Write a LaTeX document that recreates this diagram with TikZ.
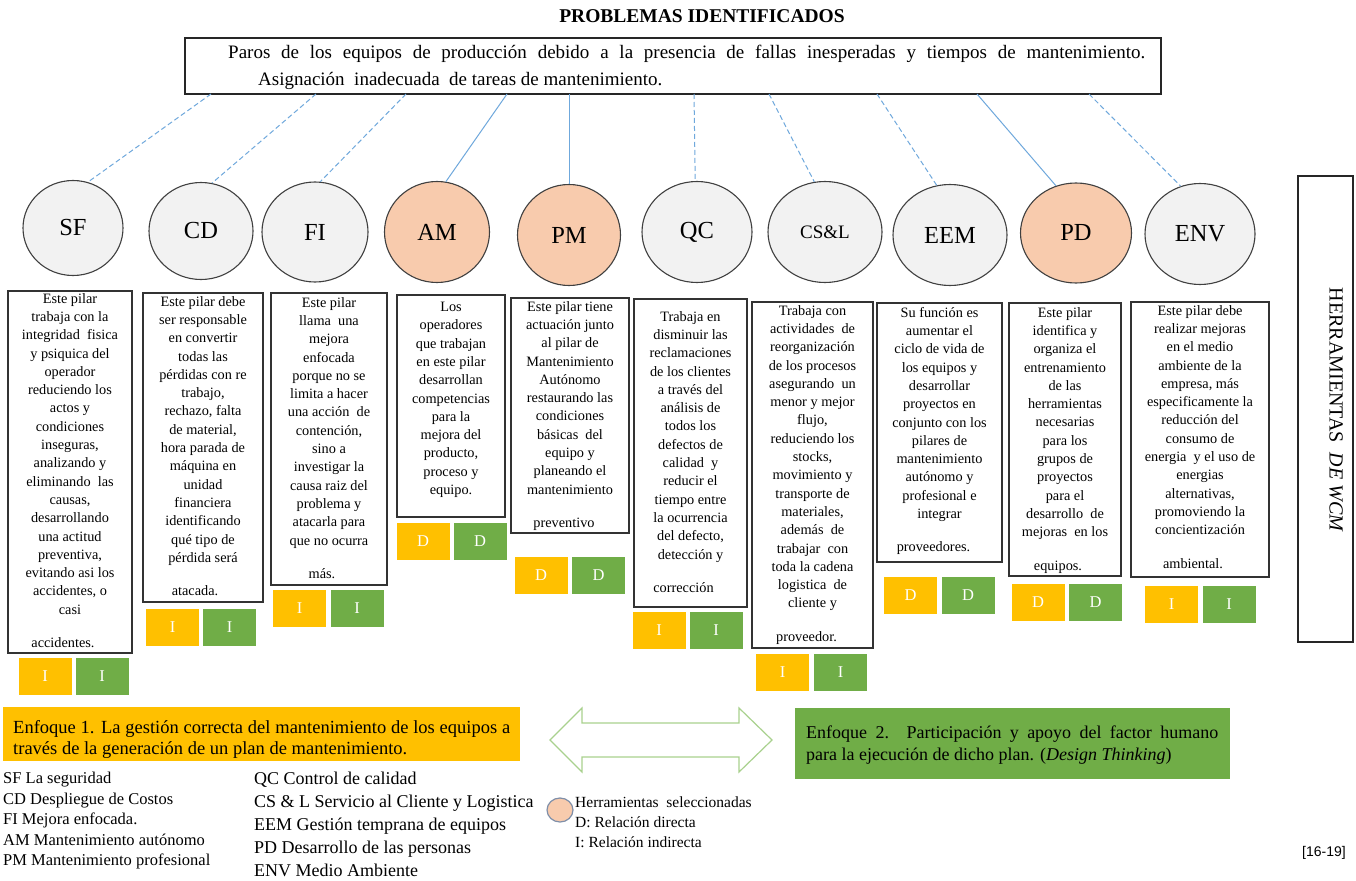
\documentclass[tikz,border=0pt]{standalone}
\usepackage{fontspec}
\setmainfont{Liberation Serif}
\newfontfamily\arialfont{Liberation Sans}
\usetikzlibrary{shapes.geometric}
\definecolor{cgray}{HTML}{F2F2F2}
\definecolor{peach}{HTML}{F8CBAD}
\definecolor{orng}{HTML}{FFC000}
\definecolor{grn}{HTML}{70AD47}
\definecolor{lblue}{HTML}{6FA8DC}
\definecolor{agreen}{HTML}{A9D18E}
\definecolor{legbord}{RGB}{127,143,169}
\begin{document}
\begin{tikzpicture}[x=1pt,y=-1pt,
  pil/.style={ellipse, draw=black!75, line width=1.1pt, fill=cgray, inner sep=0pt, font=\fontsize{24.5}{24.5}\selectfont},
  pilsel/.style={pil, fill=peach},
  txtbox/.style={draw=black!80, line width=1.3pt, inner sep=0pt},
  boxtext/.style={anchor=north, inner sep=0pt, align=center, font=\fontsize{14.3}{18.3}\selectfont},
  chipo/.style={fill=orng, inner sep=0pt, minimum width=53pt, minimum height=37pt, text=white, font=\fontsize{16.5}{16.5}\selectfont},
  chipg/.style={chipo, fill=grn},
  conn/.style={draw=lblue, line width=1pt},
  connd/.style={conn, dash pattern=on 5pt off 3pt},
  plain/.style={inner sep=0pt},
]
\useasboundingbox (0,0) rectangle (1356,880);
\fill[white] (0,0) rectangle (1356,880);

% title and problem box
\node[plain, anchor=base, font=\fontsize{19.5}{19.5}\selectfont\bfseries] (title) at (702,23) {PROBLEMAS IDENTIFICADOS};
\node[draw=black!85, line width=1.3pt, inner sep=0pt, minimum width=976pt, minimum height=56pt] (topbox) at (673,66) {};
\node[plain, anchor=base west, font=\fontsize{19}{19}\selectfont] (prob1) at (228,59) {\makebox[917pt][s]{Paros de los equipos de producción debido a la presencia de fallas inesperadas y tiempos de mantenimiento.}};
\node[plain, anchor=base west, font=\fontsize{19}{19}\selectfont] (prob2) at (258,86) {Asignación\ \ inadecuada\ \ de tareas de mantenimiento.};

% pillars
\node[pil, minimum width=100pt, minimum height=95pt] (SF) at (73,228) {SF};
\node[pil, minimum width=104pt, minimum height=97pt] (CD) at (201,231) {CD};
\node[pil, minimum width=106pt, minimum height=100pt] (FI) at (315,232) {FI};
\node[pilsel, minimum width=105pt, minimum height=101pt] (AM) at (437,232) {AM};
\node[pilsel, minimum width=103pt, minimum height=101pt] (PM) at (569,235) {PM};
\node[pil, minimum width=110pt, minimum height=101pt] (QC) at (697,232) {QC};
\node[pil, minimum width=114pt, minimum height=101pt, font=\fontsize{19}{19}\selectfont] (CSL) at (825,232) {CS\&L};
\node[pil, minimum width=114pt, minimum height=101pt] (EEM) at (950,235) {EEM};
\node[pilsel, minimum width=111pt, minimum height=100pt] (PD) at (1076,233) {PD};
\node[pil, minimum width=110pt, minimum height=101pt] (ENV) at (1200,234) {ENV};

% connectors
\coordinate (tSF) at (211,94);
\coordinate (tCD) at (316,94);
\coordinate (tFI) at (406,94);
\coordinate (tAM) at (507,94);
\coordinate (tPM) at (569,94);
\coordinate (tQC) at (694,94);
\coordinate (tCSL) at (769,94);
\coordinate (tEEM) at (877,94);
\coordinate (tPD) at (977,94);
\coordinate (tENV) at (1089,94);
\draw[connd] (tSF) -- (SF.72);
\draw[connd] (tCD) -- (CD.77);
\draw[connd] (tFI) -- (FI.84);
\draw[conn] (tAM) -- (AM.80);
\draw[conn] (tPM) -- (PM.90);
\draw[connd] (tQC) -- (QC.92);
\draw[connd] (tCSL) -- (CSL.102);
\draw[connd] (tEEM) -- (EEM.105);
\draw[conn] (tPD) -- (PD.113);
\draw[connd] (tENV) -- (ENV.112);

% description boxes
\node[txtbox, minimum width=124pt, minimum height=362pt] (bSF) at (70,472) {};
\node[txtbox, minimum width=120pt, minimum height=309pt] (bCD) at (203,447.5) {};
\node[txtbox, minimum width=116pt, minimum height=292pt] (bFI) at (329,439) {};
\node[txtbox, minimum width=108pt, minimum height=222pt] (bAM) at (451,406) {};
\node[txtbox, minimum width=118pt, minimum height=235pt] (bPM) at (570,415.5) {};
\node[txtbox, minimum width=113pt, minimum height=308pt] (bQC) at (690.5,453) {};
\node[txtbox, minimum width=121pt, minimum height=346pt] (bCSL) at (812.5,475) {};
\node[txtbox, minimum width=125pt, minimum height=259pt] (bEEM) at (939.5,432.5) {};
\node[txtbox, minimum width=112pt, minimum height=273pt] (bPD) at (1065,439.5) {};
\node[txtbox, minimum width=138pt, minimum height=275pt] (bENV) at (1200,439.5) {};

\node[boxtext] (xSF) at (70,293) {Este pilar\\trabaja con la\\integridad\ \ fisica\\y psiquica del\\operador\\reduciendo los\\actos y\\condiciones\\inseguras,\\analizando y\\eliminando\ \ las\\causas,\\desarrollando\\una actitud\\preventiva,\\evitando asi los\\accidentes, o\\casi\\[15pt]\hspace*{-14pt}accidentes.};
\node[boxtext] (xCD) at (203,296) {Este pilar debe\\ser responsable\\en convertir\\todas las\\pérdidas con re\\trabajo,\\rechazo, falta\\de material,\\hora parada de\\máquina en\\unidad\\financiera\\identificando\\qué tipo de\\pérdida será\\[15pt]\hspace*{-16pt}atacada.};
\node[boxtext] (xFI) at (329,297) {Este pilar\\llama\ \ una\\mejora\\enfocada\\porque no se\\limita a hacer\\una acción\ \ de\\contención,\\sino a\\investigar la\\causa raiz del\\problema y\\atacarla para\\que no ocurra\\[15pt]\hspace*{-14pt}más.};
\node[boxtext] (xAM) at (451,302) {Los\\operadores\\que trabajan\\en este pilar\\desarrollan\\competencias\\para la\\mejora del\\producto,\\proceso y\\equipo.};
\node[boxtext] (xPM) at (570,301) {Este pilar tiene\\actuación junto\\al pilar de\\Mantenimiento\\Autónomo\\restaurando las\\condiciones\\básicas\ \ del\\equipo y\\planeando el\\mantenimiento\\[15pt]\hspace*{-12pt}preventivo};
\node[boxtext] (xQC) at (690.5,311) {Trabaja en\\disminuir las\\reclamaciones\\de los clientes\\a través del\\análisis de\\todos los\\defectos de\\calidad\ \ y\\reducir el\\tiempo entre\\la ocurrencia\\del defecto,\\detección y\\[15pt]\hspace*{-14pt}corrección};
\node[boxtext] (xCSL) at (812.5,305) {Trabaja con\\actividades\ \ de\\reorganización\\de los procesos\\asegurando\ \ un\\menor y mejor\\flujo,\\reduciendo los\\stocks,\\movimiento y\\transporte de\\materiales,\\además\ \ de\\trabajar\ \ con\\toda la cadena\\logistica\ \ de\\cliente y\\[15pt]\hspace*{-12pt}proveedor.};
\node[boxtext] (xEEM) at (939.5,307) {Su función es\\aumentar el\\ciclo de vida de\\los equipos y\\desarrollar\\proyectos en\\conjunto con los\\pilares de\\mantenimiento\\autónomo y\\profesional e\\integrar\\[15pt]\hspace*{-12pt}proveedores.};
\node[boxtext] (xPD) at (1065,307) {Este pilar\\identifica y\\organiza el\\entrenamiento\\de las\\herramientas\\necesarias\\para los\\grupos de\\proyectos\\para el\\desarrollo\ \ de\\mejoras\ \ en los\\[15pt]\hspace*{-14pt}equipos.};
\node[boxtext] (xENV) at (1200,305) {Este pilar debe\\realizar mejoras\\en el medio\\ambiente de la\\empresa, más\\especificamente la\\reducción del\\consumo de\\energia\ \ y el uso de\\energias\\alternativas,\\promoviendo la\\concientización\\[15pt]\hspace*{-14pt}ambiental.};

% relation chips
\node[chipo] (oSF) at (45,676.5) {I};
\node[chipg] (gSF) at (102,676.5) {I};
\node[chipo] (oCD) at (172.5,627.5) {I};
\node[chipg] (gCD) at (229.5,627.5) {I};
\node[chipo] (oFI) at (299.5,608) {I};
\node[chipg] (gFI) at (357,608) {I};
\node[chipo] (oAM) at (423,541) {D};
\node[chipg] (gAM) at (480,541) {D};
\node[chipo] (oPM) at (541,575) {D};
\node[chipg] (gPM) at (598.5,575) {D};
\node[chipo] (oQC) at (659,630) {I};
\node[chipg] (gQC) at (716,630) {I};
\node[chipo] (oCSL) at (782.5,672.5) {I};
\node[chipg] (gCSL) at (840.5,672.5) {I};
\node[chipo] (oEEM) at (910.5,595.5) {D};
\node[chipg] (gEEM) at (968,595.5) {D};
\node[chipo] (oPD) at (1038,602) {D};
\node[chipg] (gPD) at (1095.5,602) {D};
\node[chipo] (oENV) at (1171.5,604.5) {I};
\node[chipg] (gENV) at (1229,604.5) {I};

% side label
\node[draw=black!85, line width=1.3pt, inner sep=0pt, minimum width=55pt, minimum height=466pt] (herrbox) at (1325.5,409) {};
\node[plain, rotate=-90, font=\fontsize{20}{20}\selectfont] (herrtext) at (1336,410) {HERRAMIENTAS\ \ \textit{DE WCM}};

% approaches
\node[fill=orng, inner sep=0pt, minimum width=517pt, minimum height=54pt] (enf1) at (261.5,734) {};
\node[plain, anchor=base west, font=\fontsize{18.5}{18.5}\selectfont] (enf1a) at (13,733) {\makebox[497pt][s]{Enfoque 1. La gestión correcta del mantenimiento de los equipos a}};
\node[plain, anchor=base west, font=\fontsize{18.5}{18.5}\selectfont] (enf1b) at (13,754) {través de la generación de un plan de mantenimiento.};
\draw[draw=agreen, line width=1.2pt, line join=miter] (550,740) -- (582,708) -- (582,723) -- (739,723) -- (739,708) -- (772,740) -- (739,772) -- (739,757) -- (582,757) -- (582,772) -- cycle;
\node[fill=grn, inner sep=0pt, minimum width=435pt, minimum height=71pt] (enf2) at (1012.5,743.5) {};
\node[plain, anchor=base west, font=\fontsize{18}{18}\selectfont] (enf2a) at (806,738) {\makebox[412pt][s]{Enfoque 2. Participación y apoyo del factor humano}};
\node[plain, anchor=base west, font=\fontsize{18}{18}\selectfont] (enf2b) at (806,760) {para la ejecución de dicho plan. (\textit{Design Thinking})};

% legends
\node[plain, anchor=north west, align=left, font=\fontsize{16.5}{20.5}\selectfont] (leg1) at (3,772) {SF La seguridad\\CD Despliegue de Costos\\FI Mejora enfocada.\\AM Mantenimiento autónomo\\PM Mantenimiento profesional};
\node[plain, anchor=north west, align=left, font=\fontsize{18}{23}\selectfont] (leg2) at (254,771.5) {QC Control de calidad\\CS \& L Servicio al Cliente y Logistica\\EEM Gestión temprana de equipos\\PD Desarrollo de las personas\\ENV Medio Ambiente};
\node[ellipse, draw=legbord, line width=1.2pt, fill=peach, minimum width=26pt, minimum height=24pt, inner sep=0pt] (legc) at (560,810) {};
\node[plain, anchor=north west, align=left, font=\fontsize{15.5}{20}\selectfont] (leg3) at (575,797) {Herramientas\ \ seleccionadas\\D: Relación directa\\I: Relación indirecta};
\node[plain, font=\arialfont\fontsize{14}{14}\selectfont] (ref) at (1324,853) {[16-19]};
\end{tikzpicture}
\end{document}
